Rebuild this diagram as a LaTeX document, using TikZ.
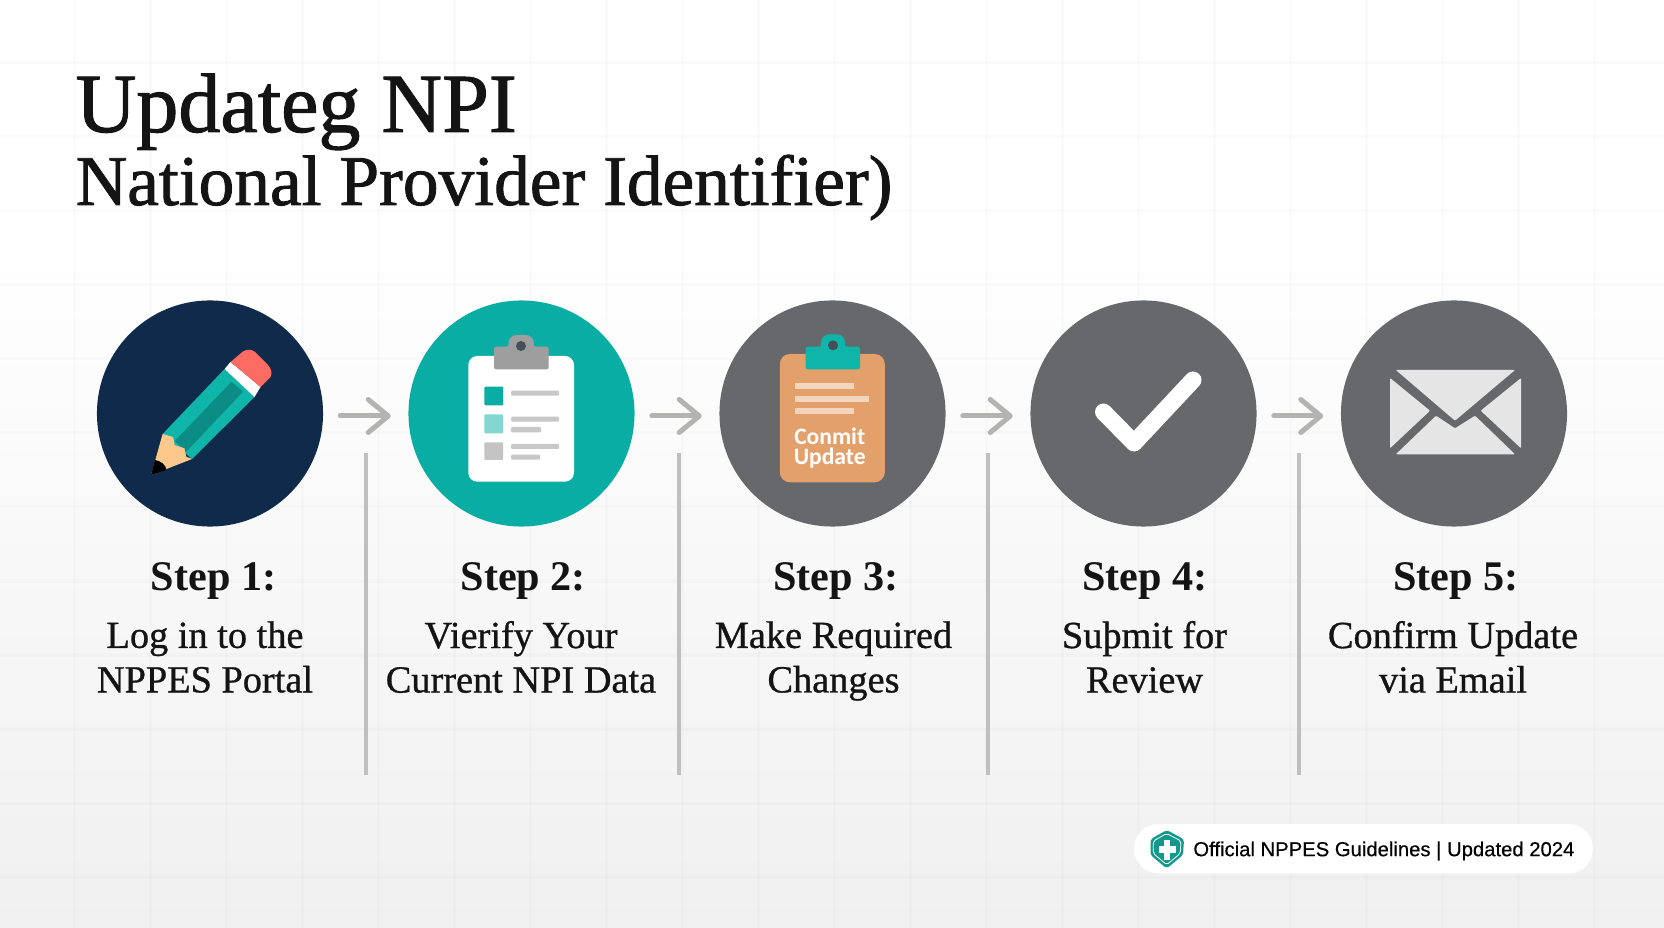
\documentclass[tikz,border=0pt]{standalone}
\usepackage{fontspec}
\setmainfont{Liberation Serif}
\newfontfamily\titlefont[FakeBold=1.2]{Liberation Serif}
\newfontfamily\bodyfont[FakeBold=0.8]{Liberation Serif}
\newfontfamily\badgefont[FakeBold=0.4]{Liberation Sans}
\newfontfamily\iconfont{Carlito}
\usetikzlibrary{arrows.meta}
\definecolor{navycirc}{HTML}{0F2A4A}
\definecolor{tealcirc}{HTML}{0AADA3}
\definecolor{tealbright}{HTML}{10B5A9}
\definecolor{tealdark}{HTML}{0B8C84}
\definecolor{greycirc}{HTML}{66686B}
\definecolor{inkdark}{HTML}{141414}
\definecolor{connectgrey}{HTML}{B3B3B1}
\definecolor{boardorange}{HTML}{E4A06B}
\definecolor{eraserred}{HTML}{FC6C62}
\definecolor{woodtan}{HTML}{FCC88C}
\definecolor{rowgrey}{HTML}{C8C8C8}
\definecolor{shieldteal}{HTML}{12998B}
\definecolor{bgbottom}{HTML}{F0F0F0}
\tikzset{
	stepcirc/.style={circle, minimum size=2.26cm, inner sep=0pt},
	steplabel/.style={anchor=base, text=inkdark, font=\fontsize{12}{14}\selectfont\bfseries},
	steptext/.style={align=center, text=inkdark, font=\bodyfont\fontsize{10.9}{12.65}\selectfont},
	flowarrow/.style={draw=connectgrey, line width=0.05cm, line cap=round, -{Straight Barb[length=0.2cm, width=0.33cm, round]}, shorten <=0.165cm, shorten >=0.17cm},
	rowbar/.style={fill=rowgrey, rounded corners=0.01cm}
}
\begin{document}
\begin{tikzpicture}[x=0.01cm, y=-0.01cm]
	\useasboundingbox (0, 0) rectangle (1664, 928);
	\path[fill=white] (0, 0) rectangle (1664, 250);
	\shade[top color=white, bottom color=bgbottom] (0, 250) rectangle (1664, 928);
	\foreach \gx in {74, 150, ..., 1640}
		\path[draw, black, opacity=0.016, line width=0.03cm] (\gx, 0) -- (\gx, 928);
	\foreach \gy in {63, 137, ..., 920}
		\path[draw, black, opacity=0.016, line width=0.03cm] (0, \gy) -- (1664, \gy);

	% title
	\node[anchor=base west, inner sep=0pt, text=inkdark, font=\titlefont\fontsize{23.9}{28}\selectfont] (title) at (75, 132) {Updateg NPI};
	\node[anchor=base west, inner sep=0pt, text=inkdark, font=\titlefont\fontsize{20.3}{24}\selectfont] (subtitle) at (75, 205) {National Provider Identifier)};

	% circles
	\node[stepcirc, fill=navycirc] (circ1) at (210, 413.5) {};
	\node[stepcirc, fill=tealcirc] (circ2) at (521.5, 413.5) {};
	\node[stepcirc, fill=greycirc] (circ3) at (832.5, 413.5) {};
	\node[stepcirc, fill=greycirc] (circ4) at (1143.5, 413.5) {};
	\node[stepcirc, fill=greycirc] (circ5) at (1454, 413.5) {};

	% arrows between the circles
	\foreach \a/\b in {1/2, 2/3, 3/4, 4/5}
		\draw[flowarrow] ([yshift=-0.025cm]circ\a.east) -- ([yshift=-0.025cm]circ\b.west);

	% separators
	\foreach \sx/\n in {366/1, 678.5/2, 987.5/3, 1299/4} {
		\coordinate (sept\n) at (\sx, 453);
		\coordinate (sepb\n) at (\sx, 775);
		\path[draw, black!25, line width=0.04cm] (sept\n) -- (sepb\n);
	}

	% pencil
	\path[fill=tealbright] (162.6, 434) -- (224.6, 369) -- (254.5, 397) -- (192, 459) -- cycle;
	\path[fill=tealdark] (174.8, 441) -- (231.5, 381.7) -- (243, 391.7) -- (186, 452) -- cycle;
	\path[fill=woodtan] (162.6, 434) -- (173, 437) -- (174.8, 445) -- (184.4, 448.3) -- (186.3, 456.7) -- (192, 459) -- (151.1, 475) -- cycle;
	\path[fill=black] (151.1, 475) -- (155, 460) .. controls (161, 461) and (166, 465) .. (166.4, 470) -- cycle;
	\path[fill=white] (224.6, 369) -- (230.5, 362) -- (260.5, 387) -- (254.5, 397) -- cycle;
	\path[fill=eraserred] (230.5, 362) -- (243, 351.5) .. controls (247, 349) and (252, 349) .. (255, 352) -- (268, 365) .. controls (272, 369) and (272, 374) .. (270.5, 377) -- (260.5, 387) -- cycle;

	% clipboard
	\path[fill=white, rounded corners=0.09cm] (468.3, 356) rectangle (574, 481.7);
	\path[fill=black!38] (494, 369.3) [rounded corners=0.02cm] -- (494, 346.7) -- (508.5, 346.7) [rounded corners=0.08cm] -- (508.5, 335) -- (533.8, 335) [rounded corners=0.02cm] -- (533.8, 346.7) -- (548.7, 346.7) -- (548.7, 369.3) -- cycle;
	\path[fill=black!75!cyan] (521, 346) circle (5);
	\path[fill=tealcirc, rounded corners=0.01cm] (484.4, 386.7) rectangle (503.2, 405.3);
	\path[fill=tealcirc!50!white, rounded corners=0.01cm] (484.4, 414.3) rectangle (503.2, 433.3);
	\path[fill=black!23, rounded corners=0.01cm] (484.4, 442.3) rectangle (503.2, 460);
	\path[rowbar] (511.2, 390.7) rectangle (559, 395.7);
	\path[rowbar] (511.2, 416.7) rectangle (559, 421.7);
	\path[rowbar] (511.2, 427) rectangle (541, 432.3);
	\path[rowbar] (511.2, 444) rectangle (559, 449);
	\path[rowbar] (511.2, 454.7) rectangle (540, 459.7);

	% orange clipboard
	\path[fill=boardorange, rounded corners=0.1cm] (779.8, 354) rectangle (884.8, 482.3);
	\path[fill=tealbright] (805.6, 369.3) [rounded corners=0.02cm] -- (805.6, 346.7) -- (821, 346.7) [rounded corners=0.08cm] -- (821, 334.3) -- (845, 334.3) [rounded corners=0.02cm] -- (845, 346.7) -- (860, 346.7) -- (860, 369.3) -- cycle;
	\path[fill=black!75!cyan] (833, 345.3) circle (5);
	\path[fill=boardorange!45!white] (795.3, 383) rectangle (853.8, 388.7);
	\path[fill=boardorange!45!white] (795.3, 396) rectangle (869.3, 401.7);
	\path[fill=boardorange!45!white] (795.3, 408.3) rectangle (853.8, 414);
	\node[align=center, text=white, inner sep=0pt, font=\iconfont\bfseries\fontsize{6.7}{5.7}\selectfont] (commit) at (829.7, 448) {Conmit\\Update};

	% check mark
	\path[draw, white, line width=0.17cm, line cap=round, line join=round] (1103.5, 412) -- (1134, 443) -- (1193, 380);

	% envelope
	\path[fill=black!10, rounded corners=0.01cm] (1395.8, 370) -- (1515, 370) -- (1455, 420.7) -- cycle;
	\path[fill=black!10, rounded corners=0.01cm] (1390, 378) -- (1430, 410.7) -- (1390, 448.3) -- cycle;
	\path[fill=black!10, rounded corners=0.01cm] (1521, 378) -- (1480.7, 410.7) -- (1521, 448.3) -- cycle;
	\path[fill=black!10, rounded corners=0.01cm] (1395.8, 454.3) -- (1436, 415.7) -- (1455, 428.3) -- (1475, 415.7) -- (1515, 454.3) -- cycle;

	% labels
	\node[steplabel] (label1) at (213.5, 590.7) {Step 1:};
	\node[steplabel] (label2) at (523.3, 590.7) {Step 2:};
	\node[steplabel] (label3) at (836, 590.7) {Step 3:};
	\node[steplabel] (label4) at (1145, 590.7) {Step 4:};
	\node[steplabel] (label5) at (1456, 590.7) {Step 5:};
	\node[steptext] (text1) at (205, 657) {Log in to the\\NPPES Portal};
	\node[steptext] (text2) at (521, 657) {Vierify Your\\Current NPI Data};
	\node[steptext] (text3) at (833.5, 661) {Make Required\\Changes};
	\node[steptext] (text4) at (1144.5, 657) {Suþmit for\\Review};
	\node[steptext] (text5) at (1453, 657) {Confirm Update\\via Email};

	% badge
	\node[fill=white, rounded corners=0.24cm, minimum width=4.584cm, minimum height=0.493cm, inner sep=0pt] (badge) at (1363.5, 848.7) {};
	\path[fill=shieldteal, rounded corners=0.03cm] (1166.7, 830) -- (1184, 839.3) -- (1183, 855) -- (1166.7, 868.5) -- (1150.5, 855) -- (1150.5, 839.3) -- cycle;
	\path[draw=white, line width=0.008cm, rounded corners=0.02cm] (1166.7, 833.5) -- (1181, 841) -- (1180.2, 853.5) -- (1166.7, 864.7) -- (1153.3, 853.5) -- (1153.3, 841) -- cycle;
	\path[fill=white] (1159.3, 846) rectangle (1176, 852.7);
	\path[fill=white] (1164, 840) rectangle (1170, 860);
	\node[anchor=west, inner sep=0pt, text=black, font=\badgefont\fontsize{5.76}{7}\selectfont] (badgetext) at (1192.7, 851) {Official NPPES Guidelines | Updated 2024};
\end{tikzpicture}
\end{document}
